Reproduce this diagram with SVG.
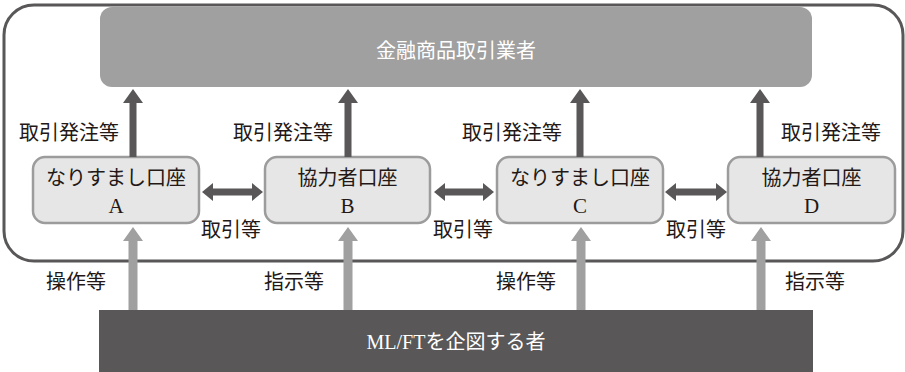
<svg xmlns="http://www.w3.org/2000/svg" xmlns:xlink="http://www.w3.org/1999/xlink" width="905" height="372" viewBox="0 0 905 372">
<style>
text{font-family:"Liberation Serif","Noto Sans CJK JP",serif;font-size:20px;text-anchor:middle;fill:#231815}
.latin{font-size:21px}
.w{fill:#ffffff}
.node{fill:#e6e6e6;stroke:#9c9c9c;stroke-width:2.5}
.dark{fill:#595757}
.gray{fill:#a0a0a0}
</style>
<defs>
<path id="upDark" d="M-3.5,157 V103 H-10 L0,89 L10,103 H3.5 V157 Z"/>
<path id="upGray" d="M-4.5,310 V241 H-10 L0,227 L10,241 H4.5 V310 Z"/>
</defs>
<rect id="frame" x="4" y="5" width="899" height="256" rx="30" fill="none" stroke="#595757" stroke-width="3"/>
<g id="broker">
<rect x="100" y="7" width="712" height="80" rx="12" fill="#a0a0a0"/>
<text class="w" x="456" y="58">金融商品取引業者</text>
</g>
<g id="planner">
<rect x="99" y="310" width="714" height="62" fill="#595757"/>
<text class="w" x="456" y="349">ML/FTを企図する者</text>
</g>
<g id="nodeA">
<rect class="node" x="33" y="157" width="166" height="66" rx="12"/>
<text x="116" y="185">なりすまし口座</text>
<text class="latin" x="116" y="213">A</text>
</g>
<g id="nodeB">
<rect class="node" x="265" y="157" width="165" height="66" rx="12"/>
<text x="347.5" y="185">協力者口座</text>
<text class="latin" x="347.5" y="213">B</text>
</g>
<g id="nodeC">
<rect class="node" x="497" y="157" width="166" height="66" rx="12"/>
<text x="580" y="185">なりすまし口座</text>
<text class="latin" x="580" y="213">C</text>
</g>
<g id="nodeD">
<rect class="node" x="728" y="157" width="167" height="66" rx="12"/>
<text x="811.5" y="185">協力者口座</text>
<text class="latin" x="811.5" y="213">D</text>
</g>
<g id="connectors">
<use xlink:href="#upDark" href="#upDark" x="133" class="dark"/>
<use xlink:href="#upDark" href="#upDark" x="348" class="dark"/>
<use xlink:href="#upDark" href="#upDark" x="580" class="dark"/>
<use xlink:href="#upDark" href="#upDark" x="760" class="dark"/>
<use xlink:href="#upGray" href="#upGray" x="133" class="gray"/>
<use xlink:href="#upGray" href="#upGray" x="348" class="gray"/>
<use xlink:href="#upGray" href="#upGray" x="581" class="gray"/>
<use xlink:href="#upGray" href="#upGray" x="761" class="gray"/>
<path class="dark" d="M202,192 L213,183 V188.5 H252 V183 L263,192 L252,201 V195.5 H213 V201 Z"/>
<path class="dark" d="M434,192 L445,183 V188.5 H483 V183 L494,192 L483,201 V195.5 H445 V201 Z"/>
<path class="dark" d="M665,192 L676,183 V188.5 H716 V183 L727,192 L716,201 V195.5 H676 V201 Z"/>
<text x="69" y="140">取引発注等</text>
<text x="283" y="140">取引発注等</text>
<text x="512" y="140">取引発注等</text>
<text x="831" y="140">取引発注等</text>
<text x="231" y="237">取引等</text>
<text x="463" y="237">取引等</text>
<text x="696" y="237">取引等</text>
<text x="76" y="289">操作等</text>
<text x="294" y="289">指示等</text>
<text x="526" y="289">操作等</text>
<text x="815" y="289">指示等</text>
</g>
</svg>
